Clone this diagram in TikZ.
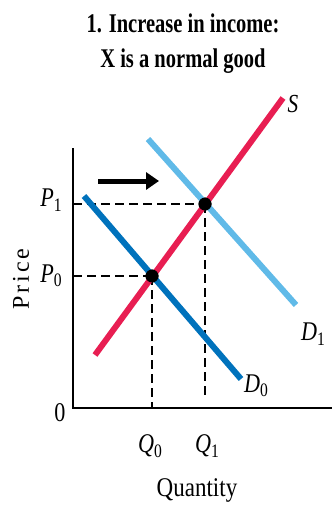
\documentclass[tikz,border=0pt]{standalone}
\usepackage{fontspec}
\setmainfont{Liberation Serif}
\usetikzlibrary{arrows.meta}

\definecolor{supplyred}{RGB}{232,30,82}
\definecolor{demandblue}{RGB}{0,114,188}
\definecolor{demandlight}{RGB}{96,186,232}

\newcommand{\varsub}[2]{\textit{#1}\raisebox{-0.35ex}{\fontsize{19}{19}\selectfont #2}}

\begin{document}
\begin{tikzpicture}[x=1pt, y=-1pt,
    curve/.style={line width=6pt},
    guide/.style={line width=1.3pt, dash pattern=on 9pt off 5pt},
    dot/.style={circle, fill=black, inner sep=0pt, minimum size=13pt},
    lbl/.style={font=\fontsize{27}{27}\selectfont, inner sep=0pt, xscale=0.82}]
        \useasboundingbox (0,0) rectangle (332,509);

        % Title
        \node[font=\fontsize{27}{35}\selectfont\bfseries, align=center, xscale=0.76] (title) at (183,44) {1. Increase in income:\\X is a normal good};

        % Axes
        \coordinate (ytop) at (73,148);
        \coordinate (origin) at (73,408);
        \coordinate (xend) at (332,408);
        \draw[line width=2pt] (ytop) -- (origin) -- (xend);

        % Curve ends
        \coordinate (S-a) at (95,355);
        \coordinate (S-b) at (283,98);
        \coordinate (D0-a) at (84,196);
        \coordinate (D0-b) at (241,379);
        \coordinate (D1-a) at (148,139);
        \coordinate (D1-b) at (296,305);

        % Equilibria
        \node[dot] (E0) at (152,276) {};
        \node[dot] (E1) at (205,204) {};
        \coordinate (P0-axis) at (73,276);
        \coordinate (P1-axis) at (73,204);
        \coordinate (Q0-axis) at (152,408);
        \coordinate (Q1-axis) at (205,398);

        % Guides
        \draw[guide] (P1-axis) -- (E1.center);
        \draw[guide] (P0-axis) -- (E0.center);
        \draw[guide] (E0.center) -- (Q0-axis);
        \draw[guide] (E1.center) -- (Q1-axis);

        % Curves
        \draw[curve, demandlight] (D1-a) -- (D1-b);
        \draw[curve, demandblue] (D0-a) -- (D0-b);
        \draw[curve, supplyred] (S-a) -- (S-b);
        \node[dot] at (E0) {};
        \node[dot] at (E1) {};

        % Shift arrow
        \coordinate (shift-a) at (98,181);
        \coordinate (shift-b) at (159,181);
        \draw[line width=5pt, -{Triangle[length=13pt, width=17pt]}] (shift-a) -- (shift-b);

        % Labels
        \node[lbl, font=\fontsize{26}{26}\selectfont\itshape] (S) at (293,104) {S};
        \node[lbl] (D0) at (256,386) {\varsub{D}{0}};
        \node[lbl] (D1) at (313,334) {\varsub{D}{1}};
        \node[lbl] (P1) at (51,200) {\varsub{P}{1}};
        \node[lbl] (P0) at (51,276) {\varsub{P}{0}};
        \node[lbl] (zero) at (60,413) {0};
        \node[lbl] (Q0) at (150,446) {\varsub{Q}{0}};
        \node[lbl] (Q1) at (207,446) {\varsub{Q}{1}};
        \node[lbl, xscale=1.04] (quantity) at (197,490) {Quantity};
        \node[font=\fontsize{24}{24}\selectfont\addfontfeatures{LetterSpace=12}, inner sep=0pt, rotate=90] (price) at (21,279) {Price};
    \end{tikzpicture}
\end{document}
